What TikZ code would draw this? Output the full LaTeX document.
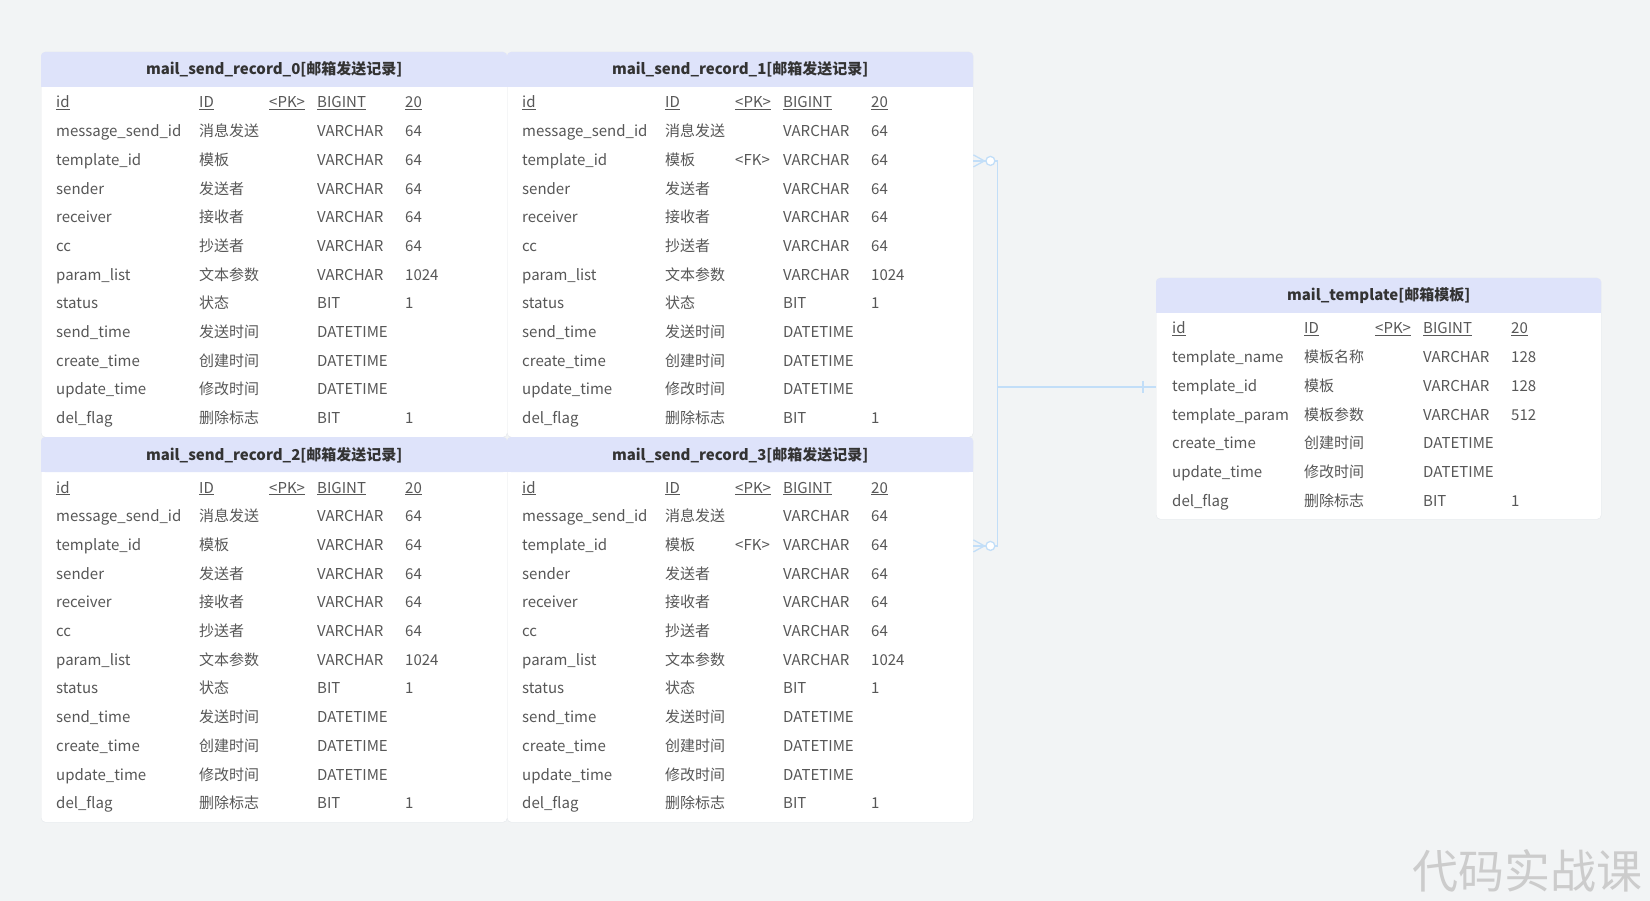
\documentclass[tikz,border=0pt]{standalone}
\usepackage{fontspec}
\setmainfont{Noto Sans CJK SC}
\usetikzlibrary{calc,positioning}

\definecolor{bgcol}{HTML}{F2F4F5}
\definecolor{headcol}{HTML}{DEE3FA}
\definecolor{tblline}{HTML}{E4E7EB}
\definecolor{celltxt}{HTML}{575757}
\definecolor{titlecol}{HTML}{333333}
\definecolor{relblue}{HTML}{C2DEF8}

\newcommand\recRows{message\_send\_id/消息发送/VARCHAR/64,
  template\_id/模板/VARCHAR/64,
  sender/发送者/VARCHAR/64,
  receiver/接收者/VARCHAR/64,
  cc/抄送者/VARCHAR/64,
  param\_list/文本参数/VARCHAR/1024,
  status/状态/BIT/1,
  send\_time/发送时间/DATETIME/{},
  create\_time/创建时间/DATETIME/{},
  update\_time/修改时间/DATETIME/{},
  del\_flag/删除标志/BIT/1}
\newcommand\tplRows{template\_name/模板名称/VARCHAR/128,
  template\_id/模板/VARCHAR/128,
  template\_param/模板参数/VARCHAR/512,
  create\_time/创建时间/DATETIME/{},
  update\_time/修改时间/DATETIME/{},
  del\_flag/删除标志/BIT/1}

\begin{document}
\begin{tikzpicture}[x=1pt, y=-1pt,
  tbl/.style={draw=tblline, fill=white, rounded corners=4pt, anchor=north west, inner sep=0pt},
  headtxt/.style={anchor=base, inner sep=0pt, text=titlecol, font=\bfseries\fontsize{15}{18}\selectfont},
  cell/.style={anchor=base west, inner sep=0pt, text=celltxt, font=\fontsize{15}{18}\selectfont},
  rel/.style={draw=relblue, line width=1.3pt}]
  \useasboundingbox[fill=bgcol] (0,0) rectangle (1650,901);

  \foreach \num/\tx/\ty/\fk in {0/41/52/{}, 1/507/52/<FK>, 2/41/437/{}, 3/507/437/<FK>} {
    \node[tbl, minimum width=466pt, minimum height=385pt] (rec\num) at (\tx,\ty) {};
    \fill[headcol, rounded corners=4pt] (rec\num.north west) rectangle ++(466,35);
    \fill[headcol] ($(rec\num.north west)+(0,17)$) rectangle ++(466,18);
    \node[headtxt] (rec\num-title) at ($(rec\num.north)+(0,23)$) {mail\_send\_record\_\num[邮箱发送记录]};
    \node[cell] (rec\num-0) at (\tx+15,\ty+56) {\underline{id}};
    \node[cell] (rec\num-0-c) at (\tx+158,\ty+56) {\underline{ID}};
    \node[cell] (rec\num-0-k) at (\tx+228,\ty+56) {\underline{<PK>}};
    \node[cell] (rec\num-0-t) at (\tx+276,\ty+56) {\underline{BIGINT}};
    \node[cell] (rec\num-0-l) at (\tx+364,\ty+56) {\underline{20}};
    \node[cell] (rec\num-fk) at (\tx+228,\ty+56+2*28.7) {\fk};
    \foreach \n/\c/\t/\l [count=\i] in \recRows {
      \node[cell] (rec\num-\i) at (\tx+15,\ty+56+\i*28.7) {\n};
      \node[cell] (rec\num-\i-c) at (\tx+158,\ty+56+\i*28.7) {\c};
      \node[cell] (rec\num-\i-t) at (\tx+276,\ty+56+\i*28.7) {\t};
      \node[cell] (rec\num-\i-l) at (\tx+364,\ty+56+\i*28.7) {\l};
    }
  }

  \node[tbl, minimum width=445pt, minimum height=241pt] (tpl) at (1156,278) {};
  \fill[headcol, rounded corners=4pt] (tpl.north west) rectangle ++(445,35);
  \fill[headcol] ($(tpl.north west)+(0,17)$) rectangle ++(445,18);
  \node[headtxt] (tpl-title) at ($(tpl.north)+(0,23)$) {mail\_template[邮箱模板]};
  \node[cell] (tpl-0) at (1172,334) {\underline{id}};
  \node[cell] (tpl-0-c) at (1304,334) {\underline{ID}};
  \node[cell] (tpl-0-k) at (1375,334) {\underline{<PK>}};
  \node[cell] (tpl-0-t) at (1423,334) {\underline{BIGINT}};
  \node[cell] (tpl-0-l) at (1511,334) {\underline{20}};
  \foreach \n/\c/\t/\l [count=\i] in \tplRows {
    \node[cell] (tpl-\i) at (1172,334+\i*28.7) {\n};
    \node[cell] (tpl-\i-c) at (1304,334+\i*28.7) {\c};
    \node[cell] (tpl-\i-t) at (1423,334+\i*28.7) {\t};
    \node[cell] (tpl-\i-l) at (1511,334+\i*28.7) {\l};
  }

  \coordinate (fk1) at ($(rec1.east |- rec1-2.base)+(0,-4.5)$);
  \coordinate (fk3) at ($(rec3.east |- rec3-2.base)+(0,-4.5)$);
  \coordinate (pk) at ($(tpl.west |- tpl-2.base)+(0,-4.5)$);
  \coordinate (bus) at ($(rec1.east)+(24,0)$);
  \draw[rel] (fk1) -| (bus |- fk3) -- (fk3);
  \draw[rel] (bus |- pk) -- (pk);
  \draw[rel] ($(pk)+(-13,-6)$) -- ++(0,12);
  \foreach \k in {1,3} {
    \draw[rel] ($(fk\k)+(0,-6)$) -- ++(11,6) -- ++(-11,6);
    \draw[rel, fill=white] ($(fk\k)+(17,0)$) circle (4.5);
  }

  \node[anchor=base west, inner sep=0pt, text=black!20, font=\fontsize{46}{50}\selectfont] (mark) at (1412,888) {代码实战课};
\end{tikzpicture}
\end{document}
